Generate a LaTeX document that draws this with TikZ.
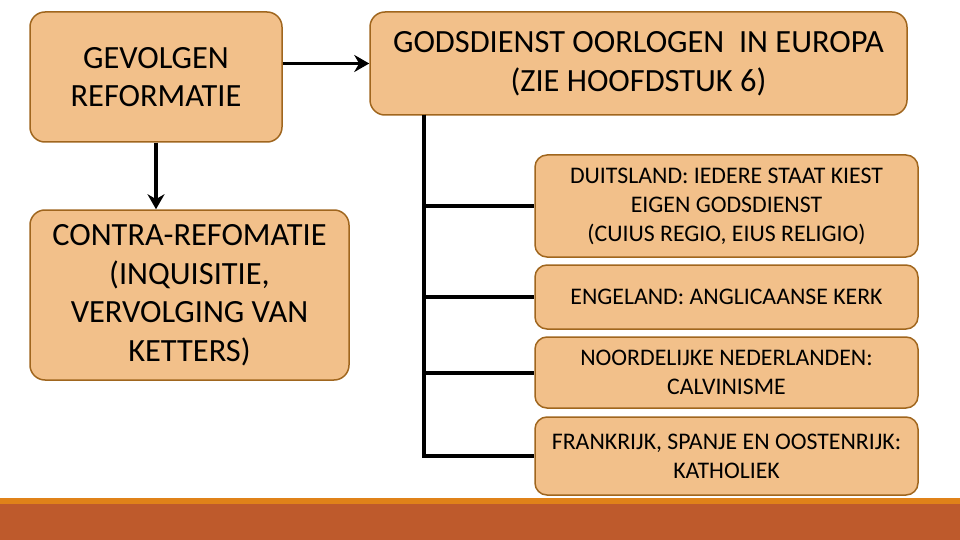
\documentclass[tikz,border=0pt]{standalone}
\usepackage{fontspec}
\setmainfont{Carlito}
\usetikzlibrary{arrows.meta}

\definecolor{vakvul}{HTML}{F2C08A}
\definecolor{vakrand}{HTML}{A0661E}
\definecolor{balklicht}{HTML}{E08219}
\definecolor{balkdonker}{HTML}{BE5A2C}

\tikzset{
    vak/.style={draw=vakrand, fill=vakvul, line width=1.5pt,
        rounded corners=15pt, align=center, inner sep=0pt},
    grootvak/.style={vak, font=\fontsize{32.4}{38.5}\selectfont},
    kleinvak/.style={vak, rounded corners=12pt,
        font=\fontsize{23.8}{29}\selectfont},
    pijl/.style={line width=3.5pt, -{Stealth[length=15pt,width=17pt]}},
    tak/.style={line width=4pt}
}

\begin{document}
\begin{tikzpicture}[x=1pt,y=-1pt]

% Fix the slide size.
\useasboundingbox (0,0) rectangle (960,540);

% Bottom bar of the slide.
\fill[balklicht] (0,498) rectangle (960,504);
\fill[balkdonker] (0,504) rectangle (960,540);

% Left column.
\node[grootvak, minimum width=252pt, minimum height=130pt]
    (gevolgen) at (156,77) {GEVOLGEN\\REFORMATIE};
\node[grootvak, minimum width=319pt, minimum height=170pt]
    (contra) at (189.5,295)
    {CONTRA-REFOMATIE\\(INQUISITIE,\\VERVOLGING VAN\\KETTERS)};

% Top right box.
\node[grootvak, minimum width=537pt, minimum height=103pt]
    (oorlogen) at (638.5,63.5)
    {GODSDIENST OORLOGEN \ IN EUROPA\\(ZIE HOOFDSTUK 6)};

% Countries.
\node[kleinvak, minimum width=383pt, minimum height=102pt]
    (duitsland) at (726.5,206)
    {DUITSLAND: IEDERE STAAT KIEST\\EIGEN GODSDIENST\\(CUIUS REGIO, EIUS RELIGIO)};
\node[kleinvak, minimum width=383pt, minimum height=64pt]
    (engeland) at (726.5,297) {ENGELAND: ANGLICAANSE KERK};
\node[kleinvak, minimum width=383pt, minimum height=71pt]
    (nederland) at (726.5,372.5) {NOORDELIJKE NEDERLANDEN:\\CALVINISME};
\node[kleinvak, minimum width=383pt, minimum height=78pt]
    (frankrijk) at (726.5,456)
    {FRANKRIJK, SPANJE EN OOSTENRIJK:\\KATHOLIEK};

% Arrows from the left box.
\draw[pijl] (gevolgen.east |- oorlogen.west) -- (oorlogen.west);
\draw[pijl] (gevolgen.south) -- (gevolgen.south |- contra.north);

% Trunk and branches.
\coordinate (stam) at (424,115);
\draw[tak] (stam) -- (stam |- frankrijk.west);
\foreach \land in {duitsland,engeland,nederland,frankrijk} {
    \draw[tak] (stam) |- (\land.west);
}

\end{tikzpicture}
\end{document}
